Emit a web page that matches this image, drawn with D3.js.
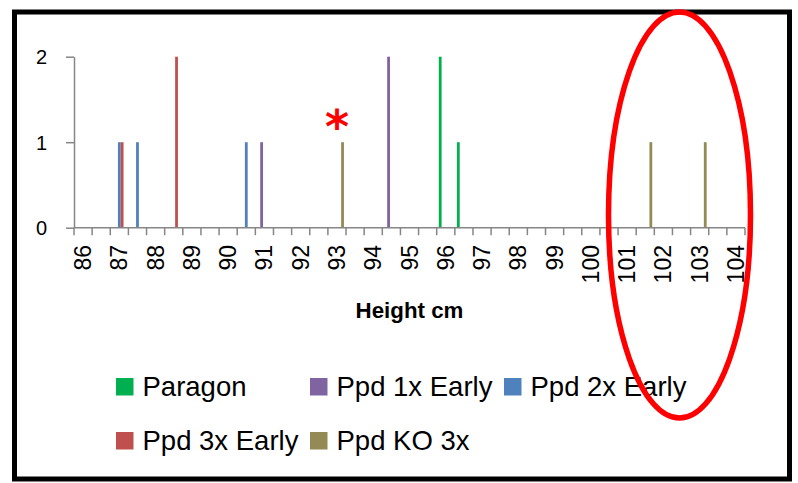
<!DOCTYPE html>
<html>
<head>
<meta charset="utf-8">
<script src="https://cdn.jsdelivr.net/npm/d3@7"></script>
<style>
  html, body { margin: 0; padding: 0; background: #fff; }
  svg { display: block; }
</style>
</head>
<body>
<svg id="chart" width="798" height="483"></svg>
<script>
// Height classes (cm), one category per half centimetre
const categories = ["86","86.5","87","87.5","88","88.5","89","89.5","90","90.5",
  "91","91.5","92","92.5","93","93.5","94","94.5","95","95.5",
  "96","96.5","97","97.5","98","98.5","99","99.5","100","100.5",
  "101","101.5","102","102.5","103","103.5","104"];
// Only whole-number heights are labelled on the axis
const tickLabels = ["86","87","88","89","90","91","92","93","94","95",
  "96","97","98","99","100","101","102","103","104"];
const yTicks = [0, 1, 2];

const seriesNames = ["Paragon", "Ppd 1x Early", "Ppd 2x Early", "Ppd 3x Early", "Ppd KO 3x"];
const seriesColors = ["#00B050", "#8064A2", "#4F81BD", "#C0504D", "#948A54"];

// Number of lines per height class: [height, count]
const paragon   = [["96", 2], ["96.5", 1]];
const ppd1x     = [["91", 1], ["94.5", 2]];
const ppd2x     = [["87", 1], ["87.5", 1], ["90.5", 1]];
const ppd3x     = [["87", 1], ["88.5", 2]];
const ppdKO3x   = [["93", 1], ["101.5", 1], ["103", 1]];
const seriesValues = [paragon, ppd1x, ppd2x, ppd3x, ppdKO3x];

const svg = d3.select("#chart");
const FONT = "'Liberation Sans', Arial, sans-serif";
const axisColor = "#868686";

const plot = { left: 74, right: 745, top: 56.7, bottom: 227.7 };

const x = d3.scaleBand().domain(categories).range([plot.left, plot.right]).padding(0);
const xSeries = d3.scaleBand().domain(seriesNames).range([0, x.bandwidth()])
  .paddingInner(0).paddingOuter(0.75);
const y = d3.scaleLinear().domain([0, 2]).range([plot.bottom, plot.top]);

// Outer frame
svg.append("rect")
  .attr("x", 14.5).attr("y", 12).attr("width", 775).attr("height", 467)
  .attr("fill", "none").attr("stroke", "#000").attr("stroke-width", 5);

// Columns
seriesValues.forEach((vals, si) => {
  svg.append("g").selectAll("rect")
    .data(vals)
    .join("rect")
    .attr("x", d => x(d[0]) + xSeries(seriesNames[si]))
    .attr("width", xSeries.bandwidth())
    .attr("y", d => y(d[1]))
    .attr("height", d => y(0) - y(d[1]))
    .attr("fill", seriesColors[si]);
});

// Y axis
const gy = svg.append("g").attr("transform", `translate(${plot.left},0)`)
  .call(d3.axisLeft(y).tickValues(yTicks).tickFormat(d3.format("d")).tickSizeInner(8).tickSizeOuter(0));
gy.select(".domain").attr("stroke", axisColor).attr("stroke-width", 1.5);
gy.selectAll(".tick line").attr("stroke", axisColor).attr("stroke-width", 1.5);
gy.selectAll(".tick text").remove();
gy.selectAll(".tick").append("text")
  .attr("x", -27).attr("dy", "0.35em")
  .attr("text-anchor", "end")
  .attr("fill", "#000")
  .style("font-family", FONT).style("font-size", "20px")
  .text(d => d);

// X axis: tick marks on category boundaries
const gx = svg.append("g").attr("transform", `translate(0,${plot.bottom})`);
gx.append("line")
  .attr("x1", plot.left).attr("x2", plot.right)
  .attr("stroke", axisColor).attr("stroke-width", 1.5);
gx.selectAll("line.tk")
  .data(categories.concat(["end"]))
  .join("line").attr("class", "tk")
  .attr("x1", (d, i) => plot.left + i * x.step())
  .attr("x2", (d, i) => plot.left + i * x.step())
  .attr("y1", 0).attr("y2", 7.5)
  .attr("stroke", axisColor).attr("stroke-width", 1.5);
gx.selectAll("text")
  .data(tickLabels)
  .join("text")
  .attr("transform", d => `translate(${x(d) + x.bandwidth() / 2},${245 - plot.bottom}) rotate(-90)`)
  .attr("dy", "0.35em")
  .attr("text-anchor", "end")
  .attr("fill", "#000")
  .style("font-family", FONT).style("font-size", "23px")
  .text(d => d);

// Axis title
svg.append("text")
  .attr("x", (plot.left + plot.right) / 2).attr("y", 318.3)
  .attr("text-anchor", "middle")
  .style("font-family", FONT).style("font-weight", "bold").style("font-size", "22.3px")
  .text("Height cm");

// Legend
const legendItems = [
  { name: seriesNames[0], col: 0, row: 0 },
  { name: seriesNames[1], col: 1, row: 0 },
  { name: seriesNames[2], col: 2, row: 0 },
  { name: seriesNames[3], col: 0, row: 1 },
  { name: seriesNames[4], col: 1, row: 1 }
];
const legendCols = [116, 310, 504];
const legendRows = [396, 450];
const lg = svg.append("g");
legendItems.forEach((it, i) => {
  const gx0 = legendCols[it.col], gy0 = legendRows[it.row];
  lg.append("rect")
    .attr("x", gx0).attr("y", gy0 - 18).attr("width", 17.5).attr("height", 17.5)
    .attr("fill", seriesColors[seriesNames.indexOf(it.name)]);
  lg.append("text")
    .attr("x", gx0 + 26.5).attr("y", gy0)
    .style("font-family", FONT).style("font-size", "27.5px")
    .attr("fill", "#000")
    .text(it.name);
});

// Asterisk marking the Ppd KO 3x value at 93 cm
svg.append("text")
  .attr("x", x("93") + x.bandwidth() / 2).attr("y", 143)
  .attr("text-anchor", "middle")
  .attr("fill", "#FF0000")
  .style("font-family", "'DejaVu Sans', sans-serif").style("font-weight", "bold").style("font-size", "46px")
  .text("*");

// Ellipse around the tallest Ppd KO 3x heights
svg.append("ellipse")
  .attr("cx", 679.5).attr("cy", 215).attr("rx", 71).attr("ry", 203)
  .attr("fill", "none").attr("stroke", "#FF0000").attr("stroke-width", 5.5);
</script>
</body>
</html>
